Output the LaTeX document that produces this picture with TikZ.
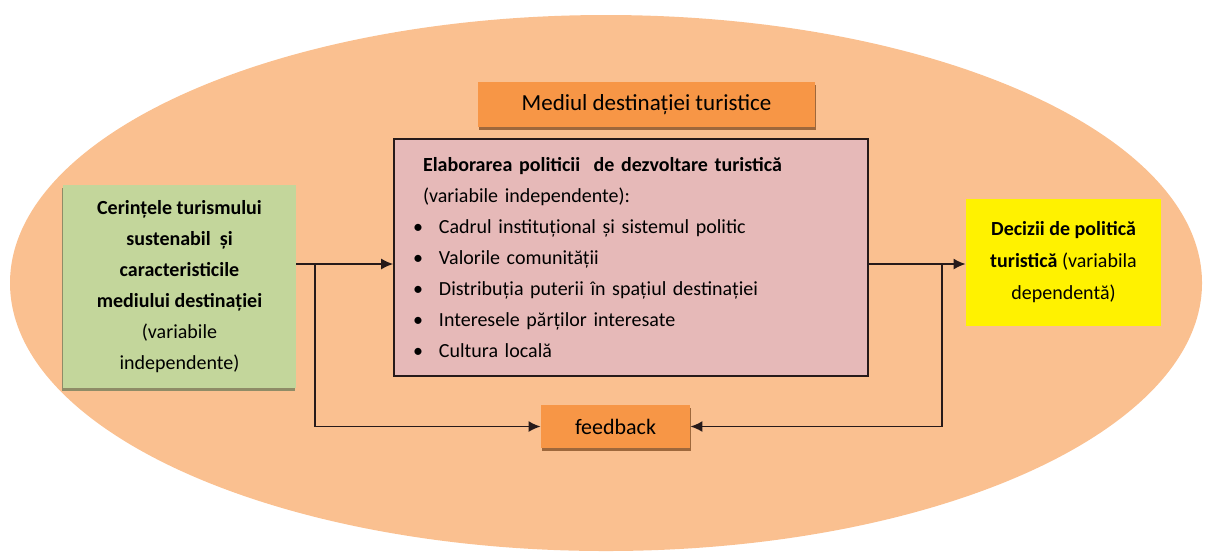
\documentclass[tikz,border=0pt]{standalone}
\usepackage{fontspec}
\setmainfont{Carlito}
\usepackage{tikz}
\usetikzlibrary{arrows.meta, positioning, shadows}
\definecolor{peach}{RGB}{250,192,144}
\definecolor{orangefill}{RGB}{247,150,70}
\definecolor{greenfill}{RGB}{195,214,155}
\definecolor{pinkfill}{RGB}{230,185,184}
\definecolor{linedark}{RGB}{38,26,26}
\tikzstyle{orangebox} = [rectangle, align=center, inner sep=0pt, fill=orangefill, drop shadow={shadow xshift=0.6pt, shadow yshift=-1.6pt, fill=black!45!orangefill, opacity=0.8}, font=\fontsize{11.5}{14}\selectfont]
\tikzstyle{policybox} = [rectangle, align=left, inner xsep=14.5pt, inner ysep=0pt, draw=linedark, line width=0.8pt, fill=pinkfill, minimum width=237pt, minimum height=118.5pt, text width=208pt, font=\fontsize{10}{15.5}\selectfont]
\tikzstyle{inputbox} = [rectangle, align=center, inner sep=0pt, fill=greenfill, minimum width=116.5pt, minimum height=101.5pt, drop shadow={shadow xshift=-0.6pt, shadow yshift=-1.6pt, fill=black!40!greenfill, opacity=0.8}, font=\fontsize{10}{15.5}\selectfont]
\tikzstyle{outputbox} = [rectangle, align=center, inner sep=0pt, fill=yellow, minimum width=97.5pt, minimum height=63.5pt, font=\fontsize{10}{16}\selectfont]
\tikzstyle{arrow} = [line width=0.85pt, draw=linedark, -{Latex[length=6pt,width=5.5pt]}]
\newcommand{\itembullet}{\hspace*{-5pt}\makebox[13pt][l]{\textbullet}}

\begin{document}
\begin{tikzpicture}[x=0.5pt, y=-0.5pt]
  \useasboundingbox (0,0) rectangle (1208,554);
  \fill[peach] (606,283) ellipse [x radius=596, y radius=268];

  \node[orangebox, minimum width=168.5pt, minimum height=22.5pt] (env) at (646.5,104.5) {Mediul destinației turistice};
  \node[policybox] (mid) at (631,257.5) {\textbf{Elaborarea politicii\ \ de dezvoltare turistică}\\
    (variabile independente):\\
    \itembullet Cadrul instituțional și sistemul politic\\
    \itembullet Valorile comunității\\
    \itembullet Distribuția puterii în spațiul destinației\\
    \itembullet Interesele părților interesate\\
    \itembullet Cultura locală};
  \node[inputbox] (req) at (179.5,286.5) {\textbf{Cerințele turismului}\\ \textbf{sustenabil\ \ și}\\ \textbf{caracteristicile}\\ \textbf{mediului destinației}\\ (variabile\\ independente)};
  \node[outputbox] (dec) at (1063.5,262.5) {\textbf{Decizii de politică}\\ \textbf{turistică} (variabila\\ dependentă)};
  \node[orangebox, minimum width=74.5pt, minimum height=21.5pt, font=\fontsize{11}{13}\selectfont] (fb) at (615.5,426.5) {feedback};

  \coordinate (lsplit) at (315,264);
  \coordinate (rsplit) at (942,264);

  \draw[arrow] (req.east |- lsplit) -- (mid.west |- lsplit);
  \draw[arrow] (lsplit) |- (fb.west);
  \draw[arrow] (mid.east |- rsplit) -- (dec.west |- rsplit);
  \draw[arrow] (rsplit) |- (fb.east);
\end{tikzpicture}
\end{document}
